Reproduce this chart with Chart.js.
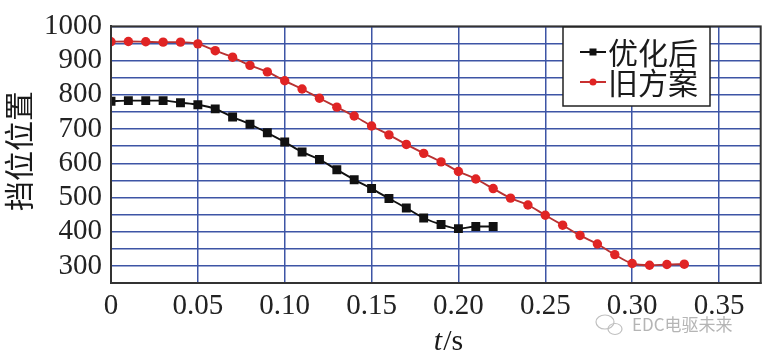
<!DOCTYPE html>
<html>
<head>
<meta charset="utf-8">
<script src="https://cdn.jsdelivr.net/npm/chart.js@4/dist/chart.umd.min.js"></script>
<style>
html,body{margin:0;padding:0;background:#fff;}
#wrap{width:767px;height:358px;}
</style>
</head>
<body>
<div id="wrap"><canvas id="c" width="767" height="358"></canvas></div>
<script>
const timeOptimized = [0,0.01,0.02,0.03,0.04,0.05,0.06,0.07,0.08,0.09,0.10,0.11,0.12,0.13,0.14,0.15,0.16,0.17,0.18,0.19,0.20,0.21,0.22];
const optimized = [781,783,783,783,777,771,759,735,714,689,662,633,611,581,552,526,497,469,440,421,409,415,415];
const timeOld = [0,0.01,0.02,0.03,0.04,0.05,0.06,0.07,0.08,0.09,0.10,0.11,0.12,0.13,0.14,0.15,0.16,0.17,0.18,0.19,0.20,0.21,0.22,0.23,0.24,0.25,0.26,0.27,0.28,0.29,0.30,0.31,0.32,0.33];
const oldScheme = [955,956,955,954,954,949,929,910,886,867,841,817,790,764,738,709,683,655,629,604,576,554,526,498,478,448,419,389,364,333,307,302,304,305];
const seriesNames = ['优化后','旧方案'];
const yTitle = '挡位位置';
const xTitleItalic = 't';
const xTitleRest = '/s';
const watermark = 'EDC电驱未来';

const CJK = '"Noto Sans CJK SC", sans-serif';
const SERIF = '"Liberation Serif", "DejaVu Serif", serif';

const extras = {
  id: 'extras',
  afterDraw(chart) {
    const ctx = chart.ctx;
    const a = chart.chartArea;
    ctx.save();
    // frame
    ctx.strokeStyle = '#333';
    ctx.lineWidth = 2;
    ctx.strokeRect(a.left, a.top, a.right - a.left, a.bottom - a.top);
    // legend
    const lx = 563, ly = 27, lw = 147, lh = 79;
    ctx.fillStyle = '#fff';
    ctx.fillRect(lx, ly, lw, lh);
    ctx.strokeStyle = '#222';
    ctx.lineWidth = 1.5;
    ctx.strokeRect(lx, ly, lw, lh);
    const rows = [
      {y: 52, color: '#111', line: '#111', shape: 'rect'},
      {y: 82, color: '#e02424', line: '#c83030', shape: 'circle'}
    ];
    ctx.font = '30px ' + CJK;
    ctx.textBaseline = 'middle';
    ctx.textAlign = 'left';
    rows.forEach((r, i) => {
      ctx.strokeStyle = r.line;
      ctx.lineWidth = 2;
      ctx.beginPath();
      ctx.moveTo(580, r.y); ctx.lineTo(606, r.y); ctx.stroke();
      ctx.fillStyle = r.color;
      if (r.shape === 'rect') {
        ctx.fillRect(593 - 3.5, r.y - 3.5, 7, 7);
      } else {
        ctx.beginPath(); ctx.arc(593, r.y, 3.5, 0, Math.PI * 2); ctx.fill();
      }
      ctx.fillStyle = '#1a1a1a';
      ctx.fillText(seriesNames[i], 608, r.y + 1);
    });
    // y title
    ctx.save();
    ctx.translate(19, 151);
    ctx.rotate(-Math.PI / 2);
    ctx.font = '30px ' + CJK;
    ctx.textAlign = 'center';
    ctx.textBaseline = 'middle';
    ctx.fillStyle = '#1a1a1a';
    ctx.fillText(yTitle, 0, 0);
    ctx.restore();
    // x title
    ctx.textBaseline = 'alphabetic';
    ctx.textAlign = 'left';
    ctx.fillStyle = '#1a1a1a';
    ctx.font = 'italic 30px ' + SERIF;
    const w1 = ctx.measureText(xTitleItalic).width;
    ctx.font = '30px ' + SERIF;
    const w2 = ctx.measureText(xTitleRest).width;
    const sx = 448 - (w1 + w2) / 2;
    ctx.font = 'italic 30px ' + SERIF;
    ctx.fillText(xTitleItalic, sx, 350);
    ctx.font = '30px ' + SERIF;
    ctx.fillText(xTitleRest, sx + w1 + 1, 350);
    // watermark
    ctx.font = '17px ' + CJK;
    ctx.fillStyle = '#b5b5b5';
    ctx.textBaseline = 'middle';
    ctx.fillText(watermark, 632, 325);
    ctx.strokeStyle = '#c0c0c0';
    ctx.lineWidth = 1.2;
    ctx.beginPath(); ctx.ellipse(605, 322, 9, 7, 0, 0, Math.PI * 2); ctx.stroke();
    ctx.beginPath(); ctx.ellipse(615, 329, 7, 5.5, 0, 0, Math.PI * 2); ctx.stroke();
    ctx.restore();
  }
};

new Chart(document.getElementById('c'), {
  type: 'line',
  data: {
    datasets: [
      {
        label: seriesNames[0],
        data: timeOptimized.map((t, i) => ({x: t, y: optimized[i]})),
        borderColor: '#111',
        backgroundColor: '#111',
        borderWidth: 1.9,
        pointStyle: 'rect',
        pointRadius: 6.3,
        pointBorderWidth: 0,
        cubicInterpolationMode: 'monotone'
      },
      {
        label: seriesNames[1],
        data: timeOld.map((t, i) => ({x: t, y: oldScheme[i]})),
        borderColor: '#b83232',
        backgroundColor: '#e02424',
        borderWidth: 1.9,
        pointStyle: 'circle',
        pointRadius: 4.7,
        pointBorderWidth: 0,
        cubicInterpolationMode: 'monotone'
      }
    ]
  },
  options: {
    responsive: false,
    animation: false,
    devicePixelRatio: 1,
    layout: {padding: {top: 20, right: 3, left: 0, bottom: 0}},
    plugins: {legend: {display: false}, tooltip: {enabled: false}},
    scales: {
      x: {
        type: 'linear',
        min: 0,
        max: 0.374,
        afterFit(s) { s.height = 75; },
        ticks: {
          stepSize: 0.05,
          includeBounds: false,
          autoSkip: false,
          padding: 6,
          maxRotation: 0,
          color: '#222',
          font: {family: SERIF, size: 29},
          callback: v => (Math.abs(v) < 1e-9 ? '0' : Number(v).toFixed(2))
        },
        grid: {color: '#3d55a5', lineWidth: 1.5, tickLength: 0},
        border: {display: true, color: '#333', width: 2}
      },
      y: {
        type: 'linear',
        min: 250,
        max: 1000,
        afterFit(s) { s.width = 111; },
        ticks: {
          stepSize: 50,
          autoSkip: false,
          padding: 9,
          color: '#222',
          font: {family: SERIF, size: 29},
          callback: v => (v % 100 === 0 ? String(v) : '')
        },
        grid: {color: '#3d55a5', lineWidth: 1.5, tickLength: 0},
        border: {display: true, color: '#333', width: 2}
      }
    }
  },
  plugins: [extras]
});
</script>
</body>
</html>
